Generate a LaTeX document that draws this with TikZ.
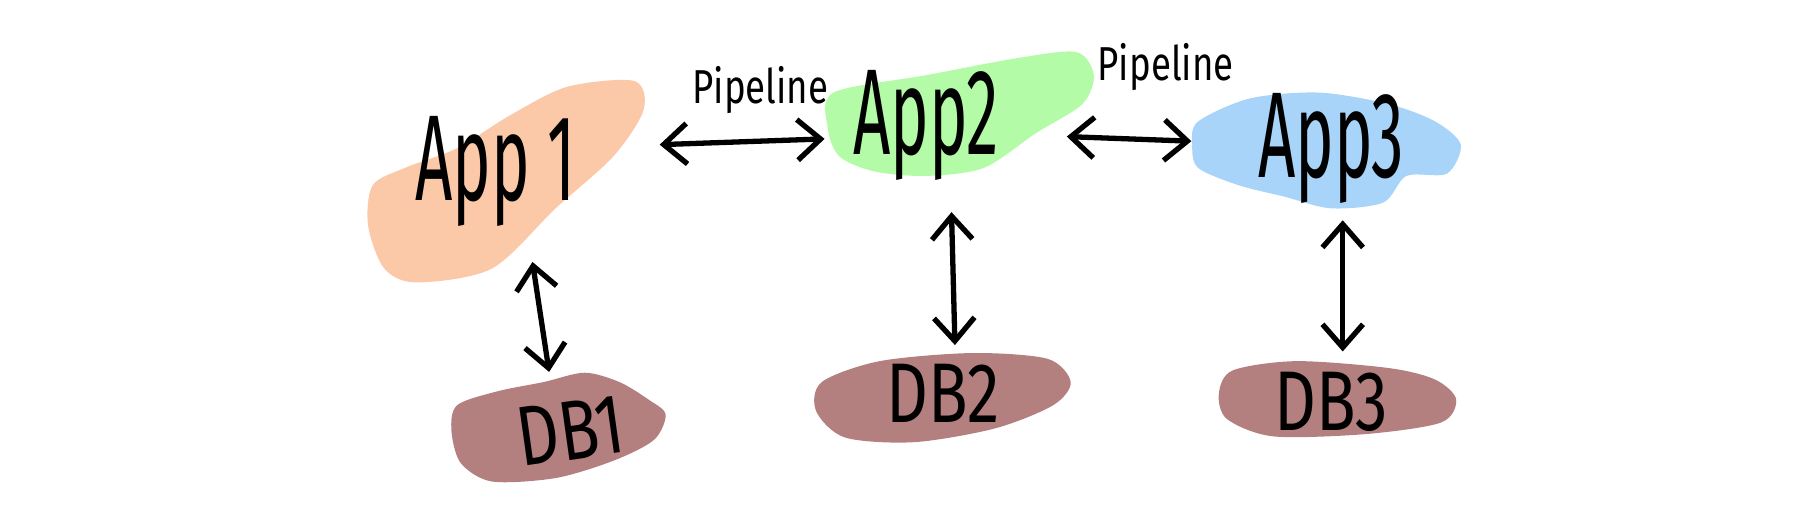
\documentclass[tikz,border=0pt]{standalone}
\usepackage{fontspec}
\setmainfont{Fira Sans}
\usepackage{graphicx}
\usetikzlibrary{arrows.meta}
\definecolor{peach}{HTML}{FCC9A8}
\definecolor{mint}{HTML}{B3FBA6}
\definecolor{sky}{HTML}{A9D4F9}
\definecolor{dbred}{HTML}{B47F7F}
\newcommand{\tall}[3]{\scalebox{#1}[#2]{#3}}

\begin{document}
\begin{tikzpicture}[x=0.01cm,y=-0.01cm,
  app/.style={inner sep=0pt,font=\fontsize{20}{20}\selectfont},
  db/.style={inner sep=0pt,font=\fontsize{16}{16}\selectfont},
  pipe/.style={inner sep=0pt,font=\fontsize{9}{9}\selectfont},
  link/.style={line width=1.3pt,line cap=round,
    {Straight Barb[length=2mm,width=3.5mm]}-{Straight Barb[length=2mm,width=3.5mm]}}]
\useasboundingbox (0,0) rectangle (1568,446);
% blobs
\fill[peach] plot[smooth cycle] coordinates {(548,70) (556,95) (530,135) (480,180) (425,232) (360,244) (332,232) (318,195) (322,160) (350,145) (395,128) (440,100) (490,75)};
\fill[mint] plot[smooth cycle] coordinates {(720,80) (800,65) (880,50) (930,45) (945,65) (935,90) (895,115) (850,145) (800,152) (755,148) (725,135) (715,110)};
\fill[sky] plot[smooth cycle] coordinates {(1035,105) (1080,85) (1140,80) (1200,90) (1240,105) (1262,125) (1250,150) (1215,152) (1195,175) (1150,180) (1110,170) (1070,160) (1035,145) (1030,125)};
\fill[dbred] plot[smooth cycle] coordinates {(395,350) (430,338) (470,330) (505,322) (535,330) (560,345) (575,358) (565,380) (530,398) (480,413) (425,416) (398,400) (390,372)};
\fill[dbred] plot[smooth cycle] coordinates {(710,330) (760,312) (840,305) (905,310) (925,330) (910,350) (860,370) (790,382) (730,378) (705,355)};
\fill[dbred] plot[smooth cycle] coordinates {(1065,320) (1120,312) (1200,318) (1240,328) (1258,345) (1245,365) (1180,375) (1100,377) (1060,362) (1053,340)};
% labels
\node[app] (app1) at (428,148) {\tall{0.8}{1.5}{App 1}};
\node[app] (app2) at (800,108) {\tall{0.8}{1.5}{App2}};
\node[app] (app3) at (1150,128) {\tall{0.8}{1.5}{App3}};
\node[db,rotate=8] (db1) at (493,372) {\tall{1}{1.3}{DB1}};
\node[db] (db2) at (815,340) {\tall{1}{1.3}{DB2}};
\node[db] (db3) at (1150,347) {\tall{1}{1.3}{DB3}};
\node[pipe] (pipe1) at (657,78) {\tall{1}{1.3}{Pipeline}};
\node[pipe] (pipe2) at (1007,58) {\tall{1}{1.3}{Pipeline}};
% arrows
\draw[link] ([xshift=0.72cm,yshift=0.23cm]app1.east) -- ([xshift=-0.24cm,yshift=-0.12cm]app2.west);
\draw[link] ([xshift=0.58cm,yshift=-0.1cm]app2.east) -- ([xshift=-0.57cm,yshift=0.06cm]app3.west);
\draw[link] ([xshift=0.32cm,yshift=-0.3cm]app1.south) -- ([xshift=-0.15cm,yshift=0.25cm]db1.north);
\draw[link] ([xshift=0.22cm,yshift=-0.27cm]app2.south) -- ([xshift=0.1cm,yshift=0.16cm]db2.north);
\draw[link] ([xshift=0.1cm,yshift=-0.14cm]app3.south) -- ([xshift=0.1cm,yshift=0.17cm]db3.north);
\end{tikzpicture}
\end{document}
